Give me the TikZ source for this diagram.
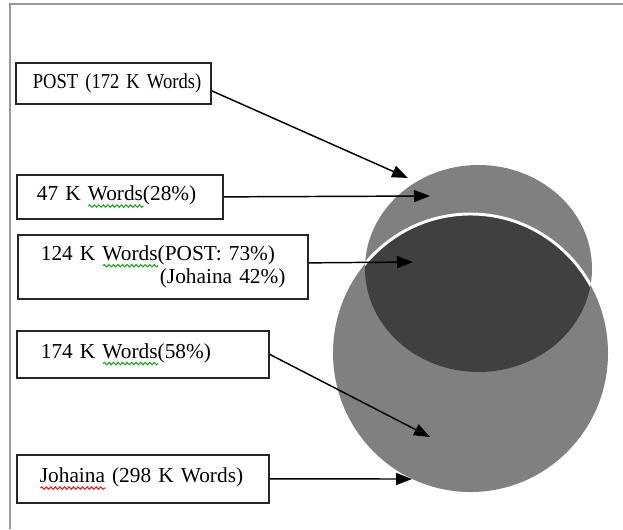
\documentclass[tikz,border=0pt]{standalone}
\usepackage{fontspec}
\setmainfont{Liberation Serif}
\newfontfamily\narrowserif[FakeStretch=0.87]{Liberation Serif}
\usetikzlibrary{arrows.meta, decorations.pathmorphing}

\definecolor{framegray}{gray}{0.6}
\definecolor{setgray}{gray}{0.5}
\definecolor{overlapgray}{gray}{0.25}
\definecolor{spellgreen}{rgb}{0.1,0.65,0.1}
\definecolor{spellred}{rgb}{0.95,0.1,0.1}

\newsavebox\wavebox
\newlength\wavelen
\newcommand\spellwave[2]{\sbox\wavebox{#2}\setlength\wavelen{\wd\wavebox}%
    \rlap{\tikz[baseline=0pt]\draw[#1, line width=0.8pt, decorate,
        decoration={snake, amplitude=0.9pt, segment length=3.4pt}]
        (0pt,-4pt) -- (\wavelen,-4pt);}\usebox\wavebox}

\tikzset{
    wordbox/.style={draw=black!85, line width=1.3pt, fill=white, anchor=north west,
        inner xsep=0pt, inner ysep=0pt, align=left,
        font=\fontsize{16}{16}\selectfont,
        execute at begin node={\hspace*{#1}}},
    pointer/.style={draw=black, line width=1.1pt, -{Triangle[length=12pt,width=9pt]}},
}

\begin{document}
\begin{tikzpicture}[x=0.75pt, y=-0.75pt]
    \useasboundingbox (0,0) rectangle (623,529);

    % frame of the figure
    \draw[framegray, line width=1.5pt] (9.5,529) |- (623,4);

    % the two word sets
    \fill[setgray] (478.5,268.5) ellipse [x radius=113.5, y radius=103.5];
    \fill[setgray] (470.5,353) ellipse [x radius=137.5, y radius=139];
    \begin{scope}
        \clip (478.5,268.5) ellipse [x radius=113.5, y radius=103.5];
        \fill[overlapgray] (470.5,353) ellipse [x radius=137.5, y radius=139];
        \draw[white, line width=2.2pt] (470.5,353) ellipse [x radius=137.5, y radius=139];
    \end{scope}

    \coordinate (post_edge) at (408,178);
    \coordinate (post_only) at (430,196);
    \coordinate (overlap) at (413,262);
    \coordinate (johaina_only) at (430,437);
    \coordinate (johaina_edge) at (412,479);

    \node[wordbox=12.75pt, text width=146.25pt, minimum height=30.75pt] (post) at (15,62)
        {\narrowserif POST (172 K Words)};
    \node[wordbox=15pt, text width=154.5pt, minimum height=33pt] (post_words) at (16,174)
        {47 K \spellwave{spellgreen}{Words}(28\%)};
    \node[wordbox=17.25pt, text width=217.5pt, minimum height=48pt] (shared_words) at (17,234)
        {124 K \spellwave{spellgreen}{Words}(POST: 73\%)\\ \hspace*{106.5pt}(Johaina 42\%)};
    \node[wordbox=18pt, text width=189pt, minimum height=35.25pt] (johaina_words) at (16,330)
        {174 K \spellwave{spellgreen}{Words}(58\%)};
    \node[wordbox=17.25pt, text width=189pt, minimum height=36pt] (johaina) at (16,454)
        {\spellwave{spellred}{Johaina} (298 K Words)};

    \draw[pointer] ([yshift=-5.6pt]post.east) -- (post_edge);
    \draw[pointer] (post_words.east) -- (post_only);
    \draw[pointer] ([yshift=3pt]shared_words.east) -- (overlap);
    \draw[pointer] (johaina_words.east) -- (johaina_only);
    \draw[pointer] (johaina.east) -- (johaina_edge);
\end{tikzpicture}
\end{document}
